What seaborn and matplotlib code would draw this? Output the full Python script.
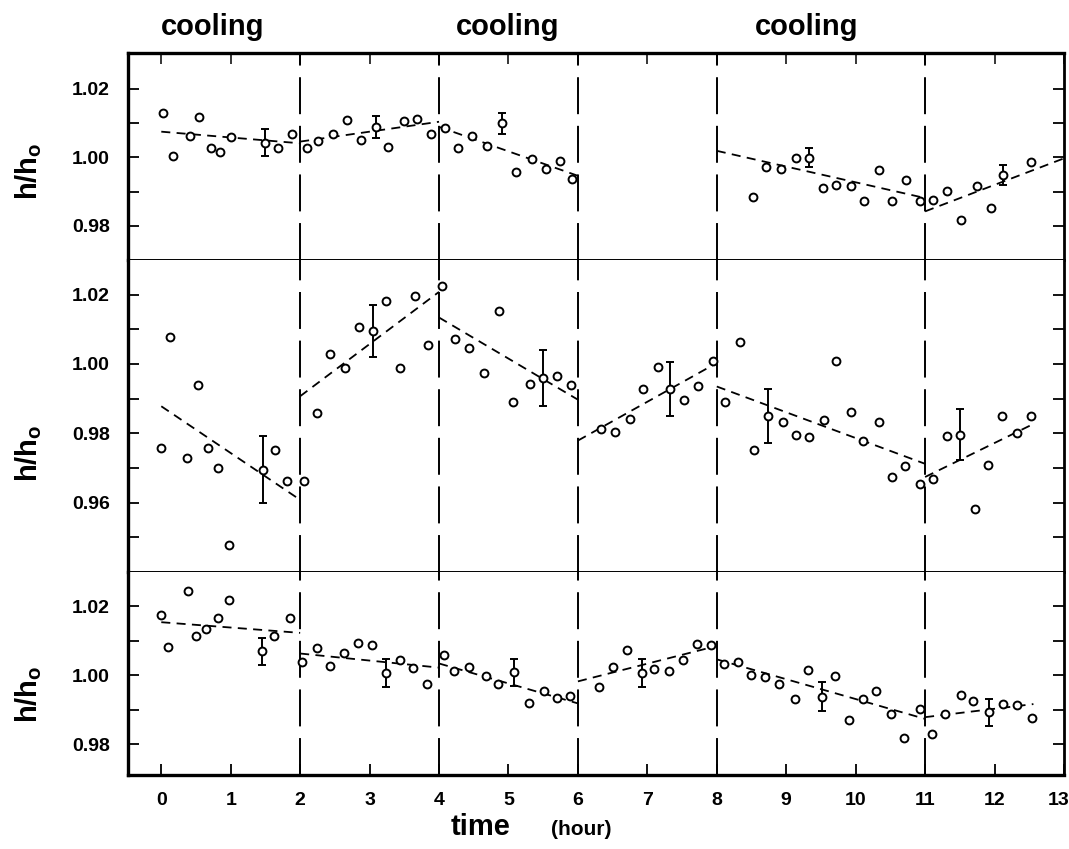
import numpy as np
import pandas as pd
import matplotlib
matplotlib.use("Agg")
import matplotlib.pyplot as plt
import matplotlib.transforms as mtransforms
import seaborn as sns

# ---------------- data ----------------
# top panel
top_t = [0.02, 0.17, 0.42, 0.55, 0.71, 0.85, 1.00, 1.49, 1.68, 1.88,
         2.10, 2.26, 2.47, 2.68, 2.88, 3.09, 3.27, 3.49, 3.68, 3.88,
         4.08, 4.28, 4.47, 4.69, 4.90, 5.11, 5.34, 5.54, 5.74, 5.92,
         8.52, 8.71, 8.92, 9.14, 9.33, 9.53, 9.72, 9.93, 10.12, 10.33,
         10.53, 10.73, 10.92, 11.12, 11.32, 11.52, 11.75, 11.95, 12.12, 12.52]
top_h = [1.0131, 1.0005, 1.0062, 1.0117, 1.0028, 1.0015, 1.0058, 1.0043, 1.0026, 1.0068,
         1.0027, 1.0049, 1.0068, 1.0109, 1.0052, 1.0089, 1.0029, 1.0107, 1.0112, 1.0068,
         1.0087, 1.0028, 1.0061, 1.0033, 1.0099, 0.9956, 0.9996, 0.9965, 0.9988, 0.9938,
         0.9883, 0.9973, 0.9965, 0.9999, 0.9999, 0.9910, 0.9920, 0.9917, 0.9872, 0.9964,
         0.9871, 0.9933, 0.9873, 0.9874, 0.9903, 0.9817, 0.9917, 0.9851, 0.9949, 0.9987]
top_err_t = [1.49, 3.09, 4.90, 9.33, 12.12]
top_err_h = [1.0043, 1.0089, 1.0099, 0.9999, 0.9949]
top_err = [0.0040, 0.0032, 0.0031, 0.0028, 0.0030]
top_fit_t0 = [0, 2, 4, 8, 11]
top_fit_t1 = [2, 4, 6, 11, 13]
top_fit_h0 = [1.0075, 1.0046, 1.0089, 1.0019, 0.9842]
top_fit_h1 = [1.0041, 1.0104, 0.9946, 0.9881, 0.9997]

# middle panel
mid_t = [0.00, 0.13, 0.37, 0.53, 0.67, 0.82, 0.98, 1.46, 1.64, 1.81,
         2.05, 2.24, 2.43, 2.64, 2.85, 3.05, 3.24, 3.44, 3.66, 3.84,
         4.04, 4.23, 4.43, 4.65, 4.86, 5.06, 5.31, 5.50, 5.70, 5.90,
         6.33, 6.53, 6.75, 6.94, 7.16, 7.33, 7.53, 7.73, 7.94,
         8.12, 8.34, 8.53, 8.74, 8.95, 9.14, 9.33, 9.54, 9.72, 9.93,
         10.11, 10.33, 10.52, 10.71, 10.93, 11.11, 11.31, 11.50, 11.72, 11.91,
         12.11, 12.32, 12.52]
mid_h = [0.9758, 1.0079, 0.9728, 0.9940, 0.9758, 0.9700, 0.9477, 0.9695, 0.9752, 0.9661,
         0.9661, 0.9860, 1.0028, 0.9989, 1.0108, 1.0096, 1.0183, 0.9988, 1.0197, 1.0056,
         1.0226, 1.0071, 1.0045, 0.9974, 1.0154, 0.9890, 0.9941, 0.9959, 0.9966, 0.9938,
         0.9811, 0.9803, 0.9840, 0.9927, 0.9991, 0.9928, 0.9897, 0.9936, 1.0010,
         0.9889, 1.0064, 0.9752, 0.9850, 0.9834, 0.9794, 0.9789, 0.9839, 1.0009, 0.9862,
         0.9777, 0.9833, 0.9675, 0.9705, 0.9655, 0.9667, 0.9792, 0.9796, 0.9583, 0.9709,
         0.9850, 0.9801, 0.9849]
mid_err_t = [1.46, 3.05, 5.50, 7.33, 8.74, 11.50]
mid_err_h = [0.9695, 1.0096, 0.9959, 0.9928, 0.9850, 0.9796]
mid_err = [0.0097, 0.0075, 0.0081, 0.0077, 0.0078, 0.0074]
mid_fit_t0 = [0, 2, 4, 6, 8, 11]
mid_fit_t1 = [2, 4, 6, 8, 11, 12.56]
mid_fit_h0 = [0.9878, 0.9907, 1.0134, 0.9779, 0.9935, 0.9674]
mid_fit_h1 = [0.9608, 1.0208, 0.9897, 1.0003, 0.9712, 0.9827]

# bottom panel
bot_t = [0.00, 0.10, 0.39, 0.50, 0.65, 0.82, 0.98, 1.45, 1.63, 1.85,
         2.03, 2.24, 2.43, 2.63, 2.84, 3.04, 3.24, 3.44, 3.63, 3.83,
         4.07, 4.22, 4.43, 4.67, 4.85, 5.08, 5.30, 5.51, 5.70, 5.89,
         6.31, 6.50, 6.71, 6.92, 7.10, 7.31, 7.51, 7.72, 7.91,
         8.11, 8.30, 8.49, 8.70, 8.90, 9.12, 9.31, 9.51, 9.70, 9.90,
         10.10, 10.29, 10.51, 10.69, 10.92, 11.10, 11.29, 11.51, 11.69, 11.92,
         12.12, 12.33, 12.54]
bot_h = [1.0176, 1.0083, 1.0246, 1.0114, 1.0133, 1.0165, 1.0218, 1.0069, 1.0114, 1.0167,
         1.0039, 1.0079, 1.0027, 1.0064, 1.0093, 1.0087, 1.0006, 1.0044, 1.0022, 0.9973,
         1.0058, 1.0012, 1.0023, 0.9998, 0.9975, 1.0008, 0.9919, 0.9953, 0.9935, 0.9940,
         0.9966, 1.0025, 1.0073, 1.0006, 1.0017, 1.0012, 1.0044, 1.0090, 1.0088,
         1.0032, 1.0039, 1.0002, 0.9996, 0.9973, 0.9932, 1.0015, 0.9938, 0.9998, 0.9871,
         0.9931, 0.9953, 0.9887, 0.9817, 0.9902, 0.9830, 0.9887, 0.9942, 0.9925, 0.9892,
         0.9916, 0.9914, 0.9877]
bot_err_t = [1.45, 3.24, 5.08, 6.92, 9.51, 11.92]
bot_err_h = [1.0069, 1.0006, 1.0008, 1.0006, 0.9938, 0.9892]
bot_err = [0.0040, 0.0041, 0.0040, 0.0040, 0.0041, 0.0040]
bot_fit_t0 = [0, 2, 4, 6, 8, 11]
bot_fit_t1 = [2, 4, 6, 8, 11, 12.56]
bot_fit_h0 = [1.0154, 1.0063, 1.0034, 0.9982, 1.0046, 0.9878]
bot_fit_h1 = [1.0123, 1.0022, 0.9918, 1.0085, 0.9873, 0.9916]

switch_times = [2, 4, 6, 8, 11]
x_ticks = list(range(0, 14))
cooling_x = [0.74, 4.99, 9.30]
cooling_label = "cooling"
y_label = r"$\mathbf{h/h_o}$"

# ---------------- style ----------------
sns.set_theme(style="ticks")
plt.rcParams["font.family"] = ["Liberation Sans", "DejaVu Sans"]
plt.rcParams["font.weight"] = "bold"
plt.rcParams["mathtext.fontset"] = "custom"
plt.rcParams["mathtext.rm"] = "Liberation Sans:bold"
plt.rcParams["mathtext.bf"] = "Liberation Sans:bold"
plt.rcParams["mathtext.it"] = "Liberation Sans:bold"

fig = plt.figure(figsize=(10.69, 8.49), dpi=100)
gs = fig.add_gridspec(3, 1, height_ratios=[207, 312, 203], hspace=0,
                      left=0.1197, right=0.9953, top=0.9376, bottom=0.0872)

panels = [
    dict(t=top_t, h=top_h, et=top_err_t, eh=top_err_h, e=top_err,
         f0=top_fit_t0, f1=top_fit_t1, g0=top_fit_h0, g1=top_fit_h1,
         ylim=(0.970, 1.0305), yt=np.arange(0.98, 1.0201, 0.01), lab_y=0.43),
    dict(t=mid_t, h=mid_h, et=mid_err_t, eh=mid_err_h, e=mid_err,
         f0=mid_fit_t0, f1=mid_fit_t1, g0=mid_fit_h0, g1=mid_fit_h1,
         ylim=(0.940, 1.030), yt=np.arange(0.95, 1.0201, 0.01), lab_y=0.38),
    dict(t=bot_t, h=bot_h, et=bot_err_t, eh=bot_err_h, e=bot_err,
         f0=bot_fit_t0, f1=bot_fit_t1, g0=bot_fit_h0, g1=bot_fit_h1,
         ylim=(0.971, 1.030), yt=np.arange(0.98, 1.0201, 0.01), lab_y=0.40),
]

axes = []
for i, p in enumerate(panels):
    ax = fig.add_subplot(gs[i])
    axes.append(ax)
    df = pd.DataFrame({"t": p["t"], "h": p["h"]})
    # fitted segments
    rows = []
    for k, (a, b, c, d) in enumerate(zip(p["f0"], p["f1"], p["g0"], p["g1"])):
        rows.append({"t": a, "h": c, "seg": k})
        rows.append({"t": b, "h": d, "seg": k})
    fit = pd.DataFrame(rows)
    sns.lineplot(data=fit, x="t", y="h", units="seg", estimator=None, ax=ax,
                 color="black", linewidth=1.3, linestyle=(0, (5, 3.5)), zorder=2)
    for xv in switch_times:
        ax.axvline(xv, color="black", linewidth=1.4, linestyle=(0, (19, 6)), zorder=1)
    ax.errorbar(p["et"], p["eh"], yerr=p["e"], fmt="none", ecolor="black",
                elinewidth=1.4, capsize=3.0, capthick=1.4, zorder=3)
    sns.scatterplot(data=df, x="t", y="h", ax=ax, marker="o", s=32,
                    facecolors="white", edgecolor="black", linewidth=1.4, zorder=4)

    ax.set_xlim(-0.48, 13.0)
    ax.set_ylim(*p["ylim"])
    yt = p["yt"]
    ax.set_yticks(yt)
    ax.set_yticklabels([f"{v:.2f}" if round(v * 100) % 2 == 0 else "" for v in yt])
    ax.tick_params(axis="y", which="both", direction="in", left=True, right=True,
                   length=8, width=1.3, pad=13, labelsize=14, colors="black")
    ax.set_xticks(x_ticks)
    ax.set_xticklabels([str(v) for v in x_ticks])
    if i == 0:
        ax.tick_params(axis="x", direction="in", top=True, bottom=False,
                       labeltop=False, labelbottom=False, length=8, width=1.3)
    elif i == 1:
        ax.tick_params(axis="x", top=False, bottom=False,
                       labeltop=False, labelbottom=False)
    else:
        ax.tick_params(axis="x", direction="in", top=False, bottom=True,
                       labelbottom=True, length=8, width=1.3, pad=12, labelsize=14,
                       colors="black")
    ax.set_xlabel("")
    ax.set_ylabel(y_label, fontsize=21, color="black")
    ax.yaxis.set_label_coords(-0.09, p["lab_y"])
    for s in ax.spines.values():
        s.set_color("black")
    ax.spines["left"].set_linewidth(2.4)
    ax.spines["right"].set_linewidth(2.0)
    ax.spines["top"].set_linewidth(1.4 if i > 0 else 2.4)
    ax.spines["bottom"].set_linewidth(1.4 if i < 2 else 2.4)
    if i > 0:
        ax.spines["top"].set_visible(False)

# "13" label sits at the right edge: right-align it so it stays inside the figure
lbl13 = axes[2].get_xticklabels()[-1]
lbl13.set_horizontalalignment("right")
lbl13.set_transform(lbl13.get_transform() + mtransforms.ScaledTranslation(4 / 72, 0, fig.dpi_scale_trans))

cool_tr = mtransforms.blended_transform_factory(axes[0].transData, fig.transFigure)
for cx in cooling_x:
    axes[0].text(cx, 1.0 - 35 / 849, cooling_label, transform=cool_tr,
                 ha="center", va="baseline", fontsize=21, fontweight="bold", color="black")

fig.text(481 / 1069, 1 - 835 / 849, "time", ha="center", va="baseline",
         fontsize=21, fontweight="bold", color="black")
fig.text(581 / 1069, 1 - 835 / 849, "(hour)", ha="center", va="baseline",
         fontsize=15, fontweight="bold", color="black")

fig.savefig("out.png", dpi=100, facecolor="white")
